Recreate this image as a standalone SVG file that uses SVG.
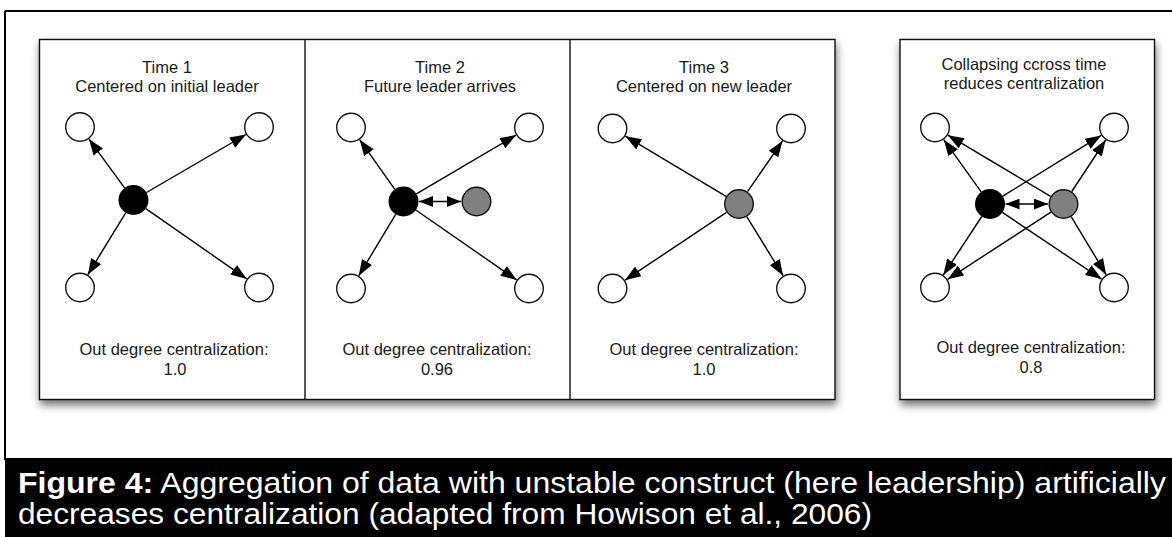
<svg xmlns="http://www.w3.org/2000/svg" width="1172" height="537" viewBox="0 0 1172 537">
<style>
.t{font-family:"Liberation Sans",Arial,Helvetica,sans-serif;font-size:16.5px;fill:#1a1a1a;text-anchor:middle}
.w{fill:#fff;stroke:#111;stroke-width:1.4}
.b{fill:#000;stroke:#000;stroke-width:1.4}
.g{fill:#808080;stroke:#111;stroke-width:1.4}
.e{stroke:#000;stroke-width:1.4;fill:none;marker-end:url(#ah)}
.d{stroke:#000;stroke-width:1.7;fill:none;marker-end:url(#ah2);marker-start:url(#ah2)}
.box{fill:#fff;stroke:#111;stroke-width:1.4}
.cap{font-family:"Liberation Sans",Arial,Helvetica,sans-serif;font-size:30px;fill:#fff}
</style>
<defs>
<marker id="ah" markerUnits="userSpaceOnUse" markerWidth="16" markerHeight="12" refX="15" refY="5.5" orient="auto-start-reverse" viewBox="0 0 15 11">
<path d="M0,0 L15,5.5 L0,11 z" fill="#000"/>
</marker>
<marker id="ah2" markerUnits="userSpaceOnUse" markerWidth="14" markerHeight="11" refX="13" refY="5" orient="auto-start-reverse" viewBox="0 0 13 10">
<path d="M0,0 L13,5 L0,10 z" fill="#000"/>
</marker>
<filter id="sh" x="-10%" y="-10%" width="125%" height="130%">
<feDropShadow dx="1" dy="5" stdDeviation="4" flood-color="#000" flood-opacity="0.55"/>
</filter>
</defs>
<rect x="0" y="0" width="1172" height="537" fill="#fff"/>
<path d="M5,11 H1172 M5,11 V460" stroke="#000" stroke-width="2" fill="none"/>
<rect x="5" y="458" width="1167" height="79" fill="#000"/>
<g id="frames">
<rect class="box" x="39.5" y="39.5" width="795.5" height="360" filter="url(#sh)"/>
<line x1="305" y1="39.5" x2="305" y2="399.5" stroke="#111" stroke-width="1.4"/>
<line x1="570" y1="39.5" x2="570" y2="399.5" stroke="#111" stroke-width="1.4"/>
<rect class="box" x="900" y="39.5" width="254.5" height="360" filter="url(#sh)"/>
</g>
<g id="connectors">
<line class="e" x1="124.6" y1="187.9" x2="88.9" y2="139.1"/>
<line class="e" x1="146.5" y1="192.5" x2="246.0" y2="134.5"/>
<line class="e" x1="125.7" y1="212.8" x2="87.8" y2="274.7"/>
<line class="e" x1="145.8" y1="208.6" x2="246.7" y2="278.9"/>
<line class="e" x1="394.8" y1="189.3" x2="359.7" y2="139.7"/>
<line class="e" x1="416.4" y1="193.9" x2="516.1" y2="135.1"/>
<line class="e" x1="395.7" y1="214.3" x2="358.8" y2="275.7"/>
<line class="e" x1="415.8" y1="210.0" x2="516.7" y2="280.0"/>
<line class="d" x1="419" y1="201.5" x2="461" y2="201.5"/>
<line class="e" x1="726.1" y1="196.3" x2="625.4" y2="136.2"/>
<line class="e" x1="747.5" y1="191.7" x2="782.5" y2="140.9"/>
<line class="e" x1="726.5" y1="212.3" x2="625.0" y2="280.2"/>
<line class="e" x1="746.9" y1="216.8" x2="783.1" y2="275.7"/>
<line class="e" x1="981.2" y1="191.8" x2="943.8" y2="139.7"/>
<line class="e" x1="1002.8" y1="196.1" x2="1101.2" y2="135.4"/>
<line class="e" x1="981.8" y1="216.5" x2="943.3" y2="275.0"/>
<line class="e" x1="1002.4" y1="212.4" x2="1101.6" y2="279.1"/>
<line class="e" x1="1050.6" y1="196.3" x2="947.9" y2="135.2"/>
<line class="e" x1="1071.8" y1="191.5" x2="1105.7" y2="140.0"/>
<line class="e" x1="1050.9" y1="212.2" x2="947.6" y2="279.3"/>
<line class="e" x1="1071.3" y1="216.8" x2="1106.2" y2="274.7"/>
<line class="d" x1="1005.5" y1="204" x2="1048" y2="204"/>
</g>
<g id="panel1">
<text class="t" x="167" y="72.7">Time 1</text>
<text class="t" x="167" y="91.7">Centered on initial leader</text>
<circle id="p1-tl" class="w" cx="80" cy="127" r="14.3"/>
<circle id="p1-tr" class="w" cx="259" cy="127" r="14.3"/>
<circle id="p1-bl" class="w" cx="80" cy="287.5" r="14.3"/>
<circle id="p1-br" class="w" cx="259" cy="287.5" r="14.3"/>
<circle id="p1-leader" class="b" cx="133.5" cy="200" r="14.3"/>
<text class="t" x="174" y="355">Out degree centralization:</text>
<text class="t" x="175" y="375">1.0</text>
</g>
<g id="panel2">
<text class="t" x="440" y="72.7">Time 2</text>
<text class="t" x="440" y="91.7">Future leader arrives</text>
<circle id="p2-tl" class="w" cx="351" cy="127.5" r="14.3"/>
<circle id="p2-tr" class="w" cx="529" cy="127.5" r="14.3"/>
<circle id="p2-bl" class="w" cx="351" cy="288.5" r="14.3"/>
<circle id="p2-br" class="w" cx="529" cy="288.5" r="14.3"/>
<circle id="p2-leader" class="b" cx="403.5" cy="201.5" r="14.3"/>
<circle id="p2-new" class="g" cx="476.5" cy="201.5" r="14.3"/>
<text class="t" x="437" y="355">Out degree centralization:</text>
<text class="t" x="437" y="375">0.96</text>
</g>
<g id="panel3">
<text class="t" x="704" y="72.7">Time 3</text>
<text class="t" x="704" y="91.7">Centered on new leader</text>
<circle id="p3-tl" class="w" cx="612.5" cy="128.5" r="14.3"/>
<circle id="p3-tr" class="w" cx="791" cy="128.5" r="14.3"/>
<circle id="p3-bl" class="w" cx="612.5" cy="288.5" r="14.3"/>
<circle id="p3-br" class="w" cx="791" cy="288.5" r="14.3"/>
<circle id="p3-new" class="g" cx="739" cy="204" r="14.3"/>
<text class="t" x="704" y="355">Out degree centralization:</text>
<text class="t" x="704" y="375">1.0</text>
</g>
<g id="panel4">
<text class="t" x="1024" y="70">Collapsing ccross time</text>
<text class="t" x="1024" y="89">reduces centralization</text>
<circle id="p4-tl" class="w" cx="935" cy="127.5" r="14.3"/>
<circle id="p4-tr" class="w" cx="1114" cy="127.5" r="14.3"/>
<circle id="p4-bl" class="w" cx="935" cy="287.5" r="14.3"/>
<circle id="p4-br" class="w" cx="1114" cy="287.5" r="14.3"/>
<circle id="p4-leader" class="b" cx="990" cy="204" r="14.3"/>
<circle id="p4-new" class="g" cx="1063.5" cy="204" r="14.3"/>
<text class="t" x="1031" y="353">Out degree centralization:</text>
<text class="t" x="1031" y="373">0.8</text>
</g>
<g id="caption">
<text class="cap" x="18" y="493" textLength="1148" lengthAdjust="spacingAndGlyphs"><tspan font-weight="bold">Figure 4:</tspan> Aggregation of data with unstable construct (here leadership) artificially</text>
<text class="cap" x="18" y="524" textLength="854" lengthAdjust="spacingAndGlyphs">decreases centralization (adapted from Howison et al., 2006)</text>
</g>
</svg>
